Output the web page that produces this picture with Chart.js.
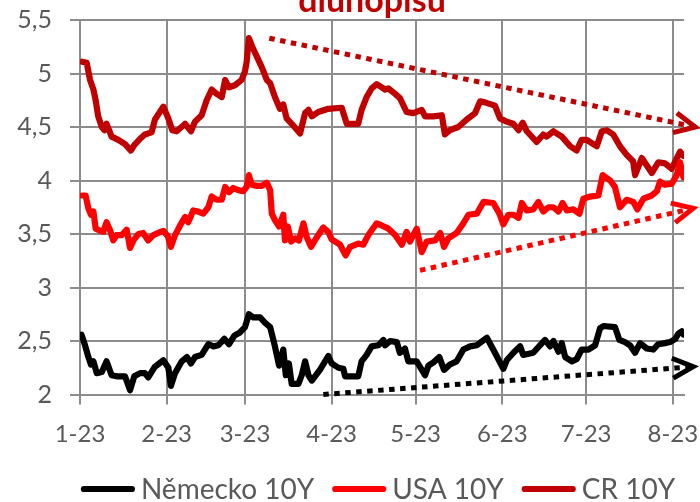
<!DOCTYPE html>
<html>
<head>
<meta charset="utf-8">
<script src="https://cdn.jsdelivr.net/npm/chart.js@4.4.0/dist/chart.umd.min.js"></script>
<style>
  html, body { margin: 0; padding: 0; background: #ffffff; }
  #wrap { width: 700px; height: 502px; }
</style>
</head>
<body>
<div id="wrap"><canvas id="chart" width="700" height="502"></canvas></div>
<script>
// x values are days counted from 1 January 2023
const monthTickDays = [0, 31, 59, 90, 120, 151, 181, 212];
const monthLabels = ['1-23', '2-23', '3-23', '4-23', '5-23', '6-23', '7-23', '8-23'];
const yTickMin = 2, yTickMax = 5.5, yTickStep = 0.5;

const titleText = 'dluhopisů';
const seriesLabels = ['Německo 10Y', 'USA 10Y', 'CR 10Y'];

// Germany 10Y
const deDays = [0.5, 1.8, 3.0, 3.9, 4.8, 6.0, 7.8, 9.5, 11.3, 13.1, 16.1, 17.9, 19.4, 21.5, 23.2, 24.4, 26.8, 29.8, 31.6, 32.5,
  34.0, 36.4, 38.2, 39.7, 41.1, 43.5, 45.9, 47.7, 49.5, 51.6, 53.3, 55.2, 57.2, 59.0, 60.4, 62.0, 64.4, 66.2, 68.0, 69.7,
  71.2, 72.7, 73.6, 74.7, 75.7, 78.1, 79.3, 80.5, 81.7, 82.9, 85.8, 88.8, 90.0, 92.4, 94.2, 94.8, 99.5, 100.7, 102.5, 104.3,
  106.7, 108.5, 109.1, 110.9, 113.3, 114.4, 116.2, 117.4, 120.4, 123.4, 124.6, 126.4, 128.5, 130.2, 132.3, 134.7, 137.1, 139.5, 141.9, 145.5,
  148.4, 151.4, 152.6, 155.0, 157.4, 158.5, 162.1, 164.5, 166.3, 168.1, 169.3, 171.1, 172.3, 173.5, 175.9, 177.6, 179.4, 181.8, 184.2, 186.0,
  187.2, 191.3, 192.9, 194.9, 196.7, 198.5, 200.3, 202.7, 205.0, 206.8, 209.2, 211.0, 212.9, 214.0, 215.2, 215.8];
const deYields = [2.56, 2.46, 2.35, 2.28, 2.31, 2.20, 2.21, 2.31, 2.18, 2.17, 2.17, 2.04, 2.17, 2.20, 2.20, 2.16, 2.26, 2.32, 2.25, 2.08,
  2.20, 2.31, 2.35, 2.29, 2.35, 2.37, 2.47, 2.45, 2.46, 2.52, 2.47, 2.55, 2.58, 2.63, 2.75, 2.72, 2.72, 2.67, 2.63, 2.45,
  2.27, 2.42, 2.18, 2.29, 2.10, 2.10, 2.18, 2.31, 2.18, 2.13, 2.23, 2.36, 2.29, 2.25, 2.24, 2.17, 2.17, 2.31, 2.37, 2.45,
  2.46, 2.51, 2.46, 2.50, 2.49, 2.39, 2.43, 2.31, 2.31, 2.18, 2.27, 2.30, 2.35, 2.23, 2.28, 2.31, 2.42, 2.45, 2.46, 2.53,
  2.39, 2.24, 2.32, 2.39, 2.45, 2.37, 2.39, 2.46, 2.51, 2.45, 2.50, 2.40, 2.48, 2.35, 2.31, 2.33, 2.42, 2.42, 2.46, 2.62,
  2.64, 2.63, 2.51, 2.49, 2.46, 2.39, 2.48, 2.43, 2.42, 2.47, 2.48, 2.49, 2.52, 2.57, 2.59, 2.56];

// USA 10Y
const usDays = [0.8, 2.0, 3.0, 3.9, 4.8, 5.6, 7.2, 8.3, 9.5, 10.7, 11.9, 13.1, 14.9, 16.7, 17.9, 19.1, 20.9, 22.6, 24.4, 26.2,
  28.0, 29.8, 31.4, 32.5, 34.0, 35.8, 37.6, 38.7, 40.5, 42.3, 44.1, 45.9, 47.1, 48.9, 50.7, 51.9, 53.3, 54.8, 56.6, 58.4,
  59.6, 60.4, 61.4, 63.2, 65.0, 66.8, 68.0, 68.6, 69.7, 71.2, 72.7, 73.3, 74.3, 75.5, 76.9, 78.3, 79.9, 81.1, 82.6, 84.7,
  87.0, 88.8, 90.0, 93.0, 95.0, 96.6, 99.5, 101.3, 103.1, 106.1, 107.9, 110.3, 112.7, 115.1, 116.8, 118.0, 120.4, 122.2, 124.0, 127.0,
  128.8, 130.2, 131.7, 134.7, 137.1, 138.9, 141.9, 144.3, 147.8, 150.0, 151.4, 153.2, 155.0, 156.8, 158.0, 159.8, 162.1, 163.9, 165.7, 167.5,
  169.3, 171.1, 172.6, 174.1, 176.4, 178.6, 180.0, 182.4, 185.4, 186.9, 189.6, 191.3, 193.1, 195.5, 197.9, 199.3, 201.5, 204.5, 206.3, 207.4,
  209.2, 211.6, 213.4, 214.6, 215.8];
const usYields = [3.86, 3.86, 3.74, 3.68, 3.71, 3.55, 3.53, 3.52, 3.61, 3.54, 3.44, 3.49, 3.49, 3.54, 3.37, 3.44, 3.50, 3.51, 3.44, 3.49,
  3.51, 3.53, 3.48, 3.38, 3.49, 3.58, 3.66, 3.61, 3.72, 3.71, 3.69, 3.75, 3.85, 3.82, 3.82, 3.94, 3.89, 3.93, 3.91, 3.90,
  3.94, 4.05, 3.96, 3.95, 3.95, 3.98, 3.91, 3.69, 3.63, 3.57, 3.68, 3.44, 3.57, 3.43, 3.46, 3.44, 3.60, 3.47, 3.38, 3.47,
  3.56, 3.52, 3.45, 3.40, 3.30, 3.38, 3.41, 3.40, 3.49, 3.60, 3.58, 3.55, 3.49, 3.40, 3.52, 3.43, 3.55, 3.33, 3.43, 3.44,
  3.51, 3.38, 3.46, 3.51, 3.60, 3.68, 3.69, 3.80, 3.79, 3.69, 3.59, 3.68, 3.68, 3.65, 3.79, 3.72, 3.73, 3.80, 3.71, 3.75,
  3.75, 3.71, 3.79, 3.72, 3.73, 3.69, 3.83, 3.85, 3.86, 4.05, 4.00, 3.94, 3.75, 3.82, 3.80, 3.73, 3.83, 3.86, 3.90, 3.99,
  3.96, 3.97, 4.05, 4.17, 4.03];

// Czech Republic 10Y
const czDays = [0.8, 2.4, 3.6, 4.8, 5.6, 6.5, 7.8, 8.7, 9.5, 10.4, 11.3, 13.7, 16.1, 18.2, 19.4, 21.5, 23.2, 25.6, 26.8, 29.8,
  31.6, 33.0, 34.6, 37.6, 39.7, 41.1, 43.5, 45.3, 47.1, 48.9, 50.7, 51.9, 53.3, 55.4, 57.8, 59.0, 59.6, 60.4, 61.6, 63.2,
  65.0, 66.8, 68.0, 69.7, 71.5, 72.7, 73.9, 75.7, 78.7, 80.5, 81.7, 82.9, 85.2, 88.8, 93.6, 95.4, 99.5, 100.7, 102.5, 104.3,
  106.1, 107.9, 109.1, 110.3, 112.7, 114.4, 116.8, 119.2, 122.2, 123.4, 126.4, 129.4, 130.5, 132.3, 135.3, 138.3, 141.3, 143.1, 144.8, 148.4,
  150.2, 152.6, 155.0, 156.8, 158.3, 159.8, 163.3, 165.7, 166.9, 169.3, 172.3, 175.3, 177.6, 179.4, 181.2, 183.0, 184.8, 186.6, 188.4, 190.7,
  193.1, 195.5, 197.8, 198.5, 200.9, 204.5, 206.8, 209.2, 211.6, 214.6, 215.8];
const czYields = [5.11, 5.10, 4.94, 4.85, 4.75, 4.60, 4.50, 4.47, 4.53, 4.47, 4.41, 4.38, 4.34, 4.28, 4.33, 4.39, 4.43, 4.45, 4.57, 4.69,
  4.58, 4.47, 4.46, 4.53, 4.46, 4.55, 4.61, 4.75, 4.85, 4.81, 4.78, 4.94, 4.87, 4.89, 4.94, 5.02, 5.11, 5.33, 5.25, 5.16,
  5.06, 4.94, 4.91, 4.78, 4.67, 4.71, 4.58, 4.53, 4.44, 4.63, 4.66, 4.60, 4.64, 4.67, 4.68, 4.53, 4.53, 4.66, 4.78, 4.86,
  4.90, 4.87, 4.85, 4.86, 4.81, 4.77, 4.64, 4.63, 4.66, 4.60, 4.60, 4.61, 4.43, 4.47, 4.50, 4.57, 4.63, 4.74, 4.73, 4.70,
  4.58, 4.55, 4.53, 4.47, 4.54, 4.46, 4.36, 4.43, 4.41, 4.46, 4.41, 4.32, 4.28, 4.38, 4.38, 4.35, 4.32, 4.46, 4.47, 4.43,
  4.32, 4.24, 4.18, 4.05, 4.21, 4.07, 4.17, 4.16, 4.11, 4.27, 4.23];

// Trend arrows: start and end of each
const czTrendDays = [67.7, 220.0];
const czTrendVals = [5.33, 4.50];
const usTrendDays = [121.6, 219.3];
const usTrendVals = [3.16, 3.74];
const deTrendDays = [87.0, 219.3];
const deTrendVals = [2.00, 2.26];

const BLACK = '#000000', RED = '#FF0000', DARK_RED = '#C00000';
const GRID = '#8C8C8C', TEXT = '#595959';
const FONT = "Lato, 'Open Sans', sans-serif";
const LINE_W = 6.2;

const toPoints = (xs, ys) => xs.map((x, i) => ({ x: x, y: ys[i] }));

function seriesDataset(label, xs, ys, color) {
  return {
    label: label, data: toPoints(xs, ys), borderColor: color, backgroundColor: color,
    borderWidth: LINE_W, pointRadius: 0, tension: 0, borderJoinStyle: 'round', borderCapStyle: 'round'
  };
}
function trendDataset(xs, ys, color) {
  return {
    label: '', trend: true, data: toPoints(xs, ys), borderColor: color, backgroundColor: color,
    borderWidth: 5, borderDash: [5.5, 5.5], borderCapStyle: 'butt', pointRadius: 0, tension: 0, clip: false
  };
}

// Open chevron at the end of each trend line
const arrowHeads = {
  id: 'arrowHeads',
  afterDatasetsDraw(chart) {
    const ctx = chart.ctx;
    chart.data.datasets.forEach((ds, i) => {
      if (!ds.trend) return;
      const pts = chart.getDatasetMeta(i).data;
      const a = pts[pts.length - 2], b = pts[pts.length - 1];
      const ang = Math.atan2(b.y - a.y, b.x - a.x);
      const len = 23, spread = 0.45;
      ctx.save();
      ctx.strokeStyle = ds.borderColor;
      ctx.lineWidth = 5;
      ctx.lineJoin = 'miter';
      ctx.lineCap = 'butt';
      ctx.beginPath();
      ctx.moveTo(b.x - len * Math.cos(ang - spread), b.y - len * Math.sin(ang - spread));
      ctx.lineTo(b.x, b.y);
      ctx.lineTo(b.x - len * Math.cos(ang + spread), b.y - len * Math.sin(ang + spread));
      ctx.stroke();
      ctx.restore();
    });
  }
};

// Title line (upper lines fall above the canvas)
const titleLine = {
  id: 'titleLine',
  afterDraw(chart, args, opts) {
    const ctx = chart.ctx;
    ctx.save();
    ctx.font = opts.font;
    ctx.fillStyle = opts.color;
    ctx.textAlign = 'center';
    ctx.textBaseline = 'alphabetic';
    ctx.fillText(opts.text, opts.x, opts.y);
    ctx.restore();
  }
};

// Legend with line samples
const lineLegend = {
  id: 'lineLegend',
  afterDraw(chart, args, opts) {
    const ctx = chart.ctx;
    ctx.save();
    ctx.font = opts.font;
    const items = chart.data.datasets.filter(ds => !ds.trend);
    let total = 0;
    items.forEach((ds, k) => {
      total += opts.sample + opts.textGap + ctx.measureText(ds.label).width;
      if (k < items.length - 1) total += opts.itemGap;
    });
    let x = opts.centerX - total / 2;
    items.forEach(ds => {
      ctx.strokeStyle = ds.borderColor;
      ctx.lineWidth = LINE_W;
      ctx.lineCap = 'round';
      ctx.beginPath();
      ctx.moveTo(x + 3, opts.y);
      ctx.lineTo(x + opts.sample - 3, opts.y);
      ctx.stroke();
      x += opts.sample + opts.textGap;
      ctx.fillStyle = opts.color;
      ctx.textBaseline = 'middle';
      ctx.textAlign = 'left';
      ctx.fillText(ds.label, x, opts.y + 1);
      x += ctx.measureText(ds.label).width + opts.itemGap;
    });
    ctx.restore();
  }
};

new Chart(document.getElementById('chart'), {
  type: 'line',
  data: {
    datasets: [
      seriesDataset(seriesLabels[0], deDays, deYields, BLACK),
      seriesDataset(seriesLabels[1], usDays, usYields, RED),
      seriesDataset(seriesLabels[2], czDays, czYields, DARK_RED),
      trendDataset(czTrendDays, czTrendVals, DARK_RED),
      trendDataset(usTrendDays, usTrendVals, RED),
      trendDataset(deTrendDays, deTrendVals, BLACK)
    ]
  },
  plugins: [arrowHeads, titleLine, lineLegend],
  options: {
    responsive: false,
    animation: false,
    devicePixelRatio: 1,
    layout: { padding: { top: 20, right: 16, bottom: 0, left: 0 } },
    plugins: {
      legend: { display: false },
      tooltip: { enabled: false },
      titleLine: { text: titleText, font: "bold 34px " + FONT, color: DARK_RED, x: 372, y: 12 },
      lineLegend: { font: "28px " + FONT, color: TEXT, centerX: 378, y: 489, sample: 54, textGap: 6, itemGap: 18 }
    },
    scales: {
      x: {
        type: 'linear', min: 0, max: 216,
        afterBuildTicks: (scale) => { scale.ticks = monthTickDays.map(v => ({ value: v })); },
        afterFit: (scale) => { scale.height = 107.5; scale.paddingLeft = 0; scale.paddingRight = 0; },
        ticks: {
          autoSkip: false, maxRotation: 0, padding: 15, color: TEXT,
          font: { family: FONT, size: 24 },
          callback: (v, i) => monthLabels[i]
        },
        grid: { color: GRID, lineWidth: 2, drawTicks: true, tickLength: 10 },
        border: { display: true, color: GRID, width: 2 }
      },
      y: {
        min: yTickMin, max: yTickMax,
        afterFit: (scale) => { scale.width = 80; scale.paddingTop = 0; scale.paddingBottom = 0; },
        ticks: {
          stepSize: yTickStep, padding: 18, color: TEXT,
          font: { family: FONT, size: 25 },
          callback: (v) => String(v).replace('.', ',')
        },
        grid: { color: GRID, lineWidth: 2, drawTicks: true, tickLength: 10 },
        border: { display: true, color: GRID, width: 2 }
      }
    }
  }
});
</script>
</body>
</html>
